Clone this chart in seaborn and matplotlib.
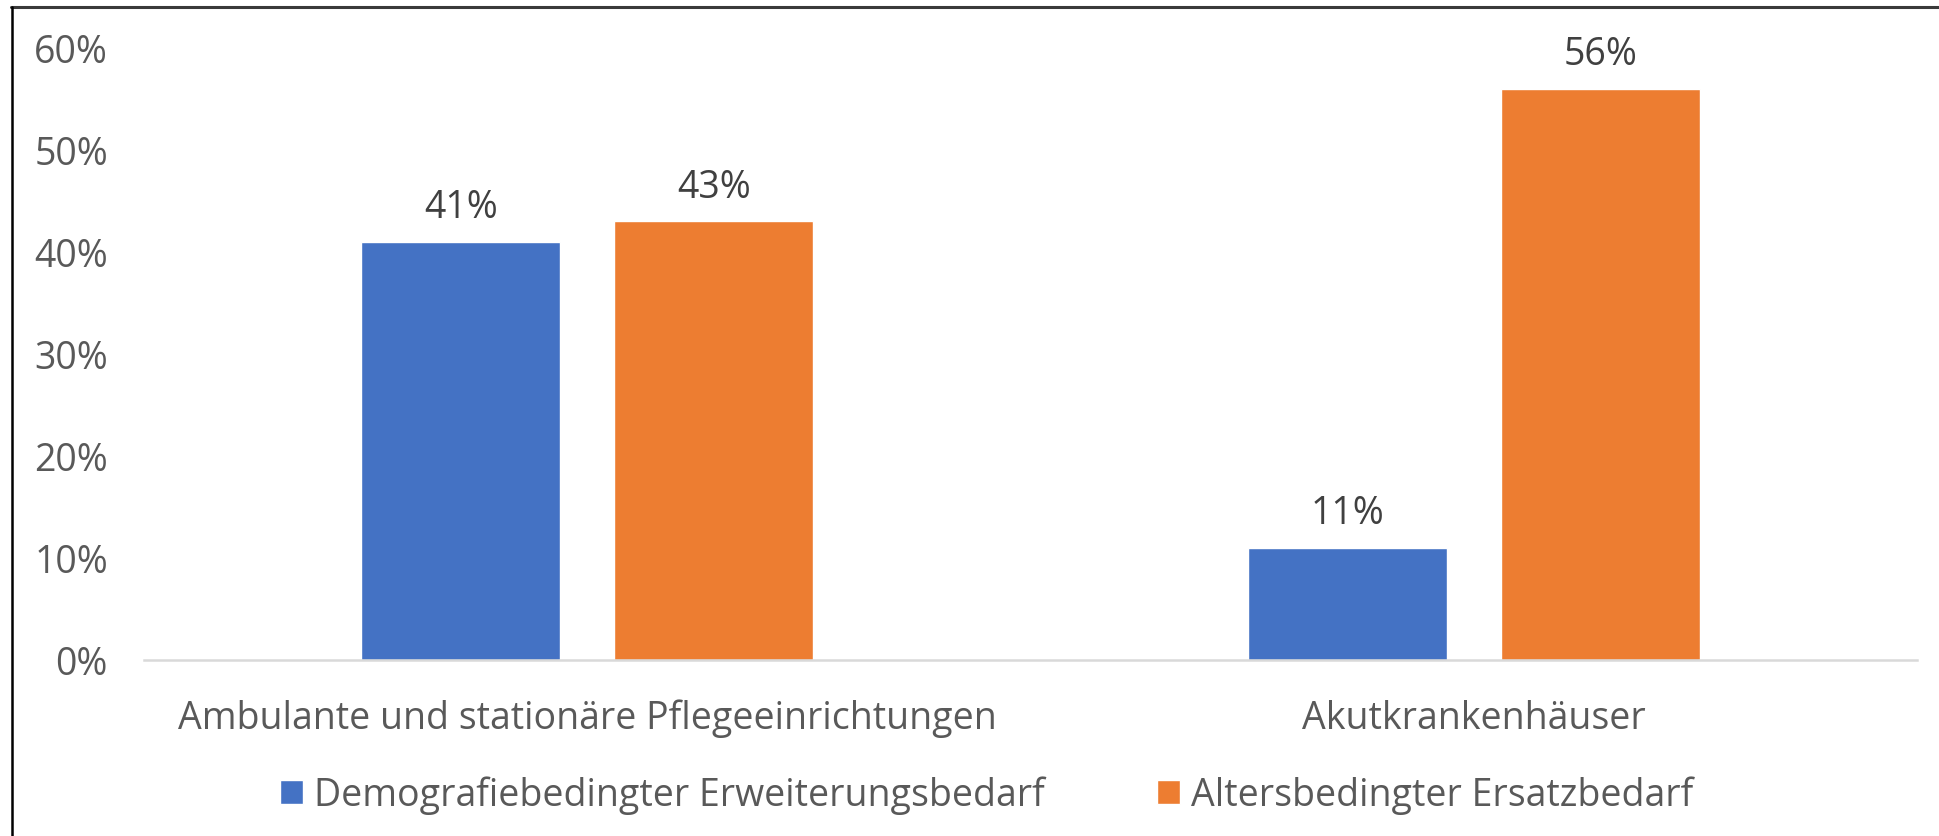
import pandas as pd
import matplotlib.pyplot as plt
import seaborn as sns
from matplotlib.lines import Line2D

# Daten
kategorien = ['Ambulante und stationäre Pflegeeinrichtungen', 'Akutkrankenhäuser']
serien = ['Demografiebedingter Erweiterungsbedarf', 'Altersbedingter Ersatzbedarf']
erweiterung = [0.41, 0.11]
ersatz = [0.43, 0.56]
y_ticks = [0, 0.1, 0.2, 0.3, 0.4, 0.5, 0.6]
y_labels = ['0%', '10%', '20%', '30%', '40%', '50%', '60%']

df = pd.DataFrame({
    'kategorie': kategorien * 2,
    'serie': [serien[0]] * 2 + [serien[1]] * 2,
    'wert': erweiterung + ersatz,
})

sns.set_style('white')
plt.rcParams['font.family'] = ['Open Sans', 'DejaVu Sans']

fig = plt.figure(figsize=(19.39, 8.37), dpi=100)
ax = fig.add_axes([0.0743, 0.2103, 0.9144, 0.7312])

sns.barplot(data=df, x='kategorie', y='wert', hue='serie', order=kategorien,
            hue_order=serien, palette=['#4472C4', '#ED7D31'],
            width=0.571, gap=0.213, saturation=1, ax=ax)

for cont in ax.containers:
    ax.bar_label(cont, labels=[f'{v * 100:.0f}%' for v in cont.datavalues],
                 padding=11, fontsize=27, color='#404040')

ax.set_xlim(-0.5, 1.5)
ax.set_ylim(0, 0.6)
ax.set_yticks(y_ticks)
ax.set_yticklabels(y_labels)
ax.tick_params(axis='y', length=0, pad=26, labelsize=27, labelcolor='#595959')
ax.tick_params(axis='x', length=0, pad=28, labelsize=27, labelcolor='#595959')
ax.set_xlabel('')
ax.set_ylabel('')

for s in ['top', 'right', 'left']:
    ax.spines[s].set_visible(False)
ax.spines['bottom'].set_color('#D9D9D9')
ax.spines['bottom'].set_linewidth(1.8)

handles, labels = ax.get_legend_handles_labels()
ax.legend_.remove()
fig.legend(handles, labels, loc='center', bbox_to_anchor=(0.509, 0.049),
           ncol=2, frameon=False, fontsize=27, labelcolor='#595959',
           handlelength=0.6, handleheight=0.6, handletextpad=0.3,
           columnspacing=3.0)

# Rahmen (nur oben und links sichtbar)
fig.add_artist(Line2D([0.0058, 1.0], [0.9904, 0.9904], color='#3a3a3a',
                      linewidth=2.2, transform=fig.transFigure))
fig.add_artist(Line2D([0.0062, 0.0062], [0.0, 0.9904], color='#000000',
                      linewidth=1.8, transform=fig.transFigure))

fig.savefig('out.png', dpi=100, facecolor='white')
